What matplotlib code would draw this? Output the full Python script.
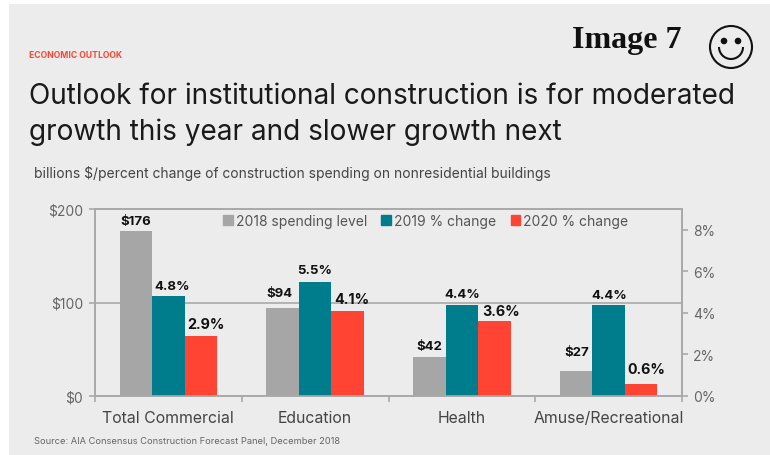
import matplotlib
matplotlib.use('Agg')
import matplotlib.pyplot as plt
from matplotlib.patches import Arc, Circle, Patch, Rectangle
import numpy as np

# Construction spending by sector
categories = ['Total Commercial', 'Education', 'Health', 'Amuse/Recreational']
spending_2018 = [176, 94, 42, 27]
change_2019 = [4.8, 5.5, 4.4, 4.4]
change_2020 = [2.9, 4.1, 3.6, 0.6]

GRAY = '#a6a6a6'
TEAL = '#007d8c'
RED = '#ff4433'
BG = '#ececec'
AXIS = '#a9a9a9'
TICK_TEXT = '#666666'
FONT = 'Inter'

W, H = 770, 456


def px_text(x, y, s, **kw):
    # place figure text by its baseline, in pixels from the top left
    kw.setdefault('family', FONT)
    kw.setdefault('va', 'baseline')
    return fig.text(x / W, 1 - y / H, s, **kw)


fig = plt.figure(figsize=(W / 100, H / 100), dpi=100, facecolor='white')
fig.add_artist(Rectangle((9 / W, 0), 1 - 9 / W, 1 - 5 / H, transform=fig.transFigure,
                         facecolor=BG, edgecolor='none', zorder=-10))

ax = fig.add_axes([95 / W, 1 - 397 / H, 587 / W, 187 / H])
ax.patch.set_visible(False)
ax2 = ax.twinx()
ax2.patch.set_visible(False)

x = np.arange(len(categories))
width = 0.2215

ax.axhline(100, color=AXIS, lw=1.2, zorder=1)
bars_2018 = ax.bar(x - width, spending_2018, width, color=GRAY, zorder=2)
bars_2019 = ax2.bar(x, change_2019, width, color=TEAL, zorder=2)
bars_2020 = ax2.bar(x + width, change_2020, width, color=RED, zorder=2)

ax.set_xlim(-0.5, 3.5)
ax.set_ylim(0, 200)
ax2.set_ylim(0, 9)

ax.set_yticks([0, 100, 200])
ax.set_yticklabels(['$0', '$100', '$200'])
ax2.set_yticks([0, 2, 4, 6, 8])
ax2.set_yticklabels(['0%', '2%', '4%', '6%', '8%'])

# category names sit between the tick marks at the group boundaries
ax.set_xticks(np.arange(-0.5, 4, 1))
ax.set_xticklabels([])
ax.set_xticks(x, minor=True)
ax.set_xticklabels(categories, minor=True, family=FONT, fontsize=11.4, color='#444444')
ax.tick_params(axis='x', which='minor', length=0, pad=10)
ax.tick_params(axis='x', which='major', length=4, width=1.2, color=AXIS)

for a, pad in ((ax, 4.5), (ax2, 4)):
    a.tick_params(axis='y', length=4, width=1.2, color=AXIS, labelsize=10, labelcolor=TICK_TEXT, pad=pad)
    for side in a.spines.values():
        side.set_color(AXIS)
        side.set_linewidth(1.2)
    for lab in a.get_yticklabels():
        lab.set_family(FONT)

# value labels, nudged by hand so they clear neighbouring bars
offsets_2018 = [(0, 4), (-3, 9), (0, 5), (1, 13)]
offsets_2019 = [(4, 4), (0, 6), (0, 5), (1, 4)]
offsets_2020 = [(5, 5), (4, 5), (7, 3), (5, 8)]


def label_bars(axis, bars, texts, offsets, size):
    for bar, text, off in zip(bars, texts, offsets):
        axis.annotate(text, (bar.get_x() + bar.get_width() / 2, bar.get_height()),
                      xytext=off, textcoords='offset pixels', ha='center', va='bottom',
                      family=FONT, fontsize=size, fontweight='bold', color='#111111', zorder=5)


label_bars(ax, bars_2018, [f'${v}' for v in spending_2018], offsets_2018, 9.5)
label_bars(ax2, bars_2019, [f'{v}%' for v in change_2019], offsets_2019, 9.5)
label_bars(ax2, bars_2020, [f'{v}%' for v in change_2020], offsets_2020, 10.3)

handles = [Patch(color=GRAY), Patch(color=TEAL), Patch(color=RED)]
ax.legend(handles, ['2018 spending level', '2019 % change', '2020 % change'],
          ncol=3, frameon=False, loc='center left', bbox_to_anchor=(128 / 587, 0.935),
          borderaxespad=0, borderpad=0, handlelength=0.7, handleheight=0.7, handletextpad=0.2,
          columnspacing=1.05, labelcolor='#555555', prop={'family': FONT, 'size': 10})

px_text(29, 58, 'ECONOMIC OUTLOOK', color=RED, fontsize=6.2, fontweight='bold')
px_text(29, 104, 'Outlook for institutional construction is for moderated', color='#1a1a1a', fontsize=20.15)
px_text(29, 140, 'growth this year and slower growth next', color='#1a1a1a', fontsize=20.15)
px_text(34, 178, 'billions $/percent change of construction spending on nonresidential buildings',
        color='#444444', fontsize=9.95)
px_text(34, 444, 'Source: AIA Consensus Construction Forecast Panel, December 2018',
        color='#666666', fontsize=6.7)
px_text(572, 48, 'Image 7', family='Liberation Serif', fontweight='bold', fontsize=23, color='#111111')

# smiley drawn on a full-figure overlay in pixel units
overlay = fig.add_axes([0, 0, 1, 1], zorder=10)
overlay.set_xlim(0, W)
overlay.set_ylim(H, 0)
overlay.axis('off')
overlay.add_patch(Circle((731, 48), 21, fill=False, edgecolor='#111111', lw=1.5))
overlay.add_patch(Circle((724, 42), 2.6, color='#111111'))
overlay.add_patch(Circle((738, 42), 2.6, color='#111111'))
overlay.add_patch(Arc((731, 48), 24, 24, theta1=0, theta2=180, edgecolor='#111111', lw=1.5))

fig.savefig('out.png', dpi=100)
